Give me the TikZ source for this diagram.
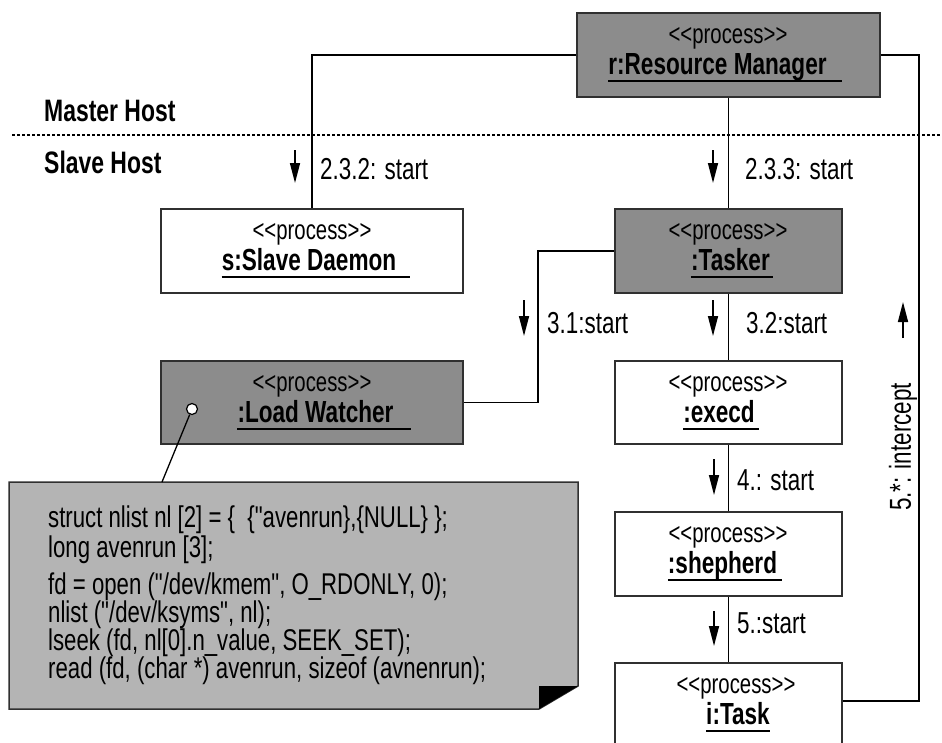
\documentclass[tikz,border=0pt]{standalone}
\usepackage{fontspec}
\setmainfont{Liberation Sans}[FakeStretch=0.74, Ligatures=TeXOff]
\usetikzlibrary{arrows.meta}
\definecolor{boxdark}{HTML}{8C8C8C}
\definecolor{notegray}{HTML}{B4B4B4}
\definecolor{edgegray}{HTML}{303030}
\begin{document}
\begin{tikzpicture}[x=1pt,y=-1pt,
  procbox/.style={draw=edgegray, line width=1.6pt, rectangle, minimum height=84pt, inner sep=0pt},
  darkbox/.style={procbox, fill=boxdark},
  lightbox/.style={procbox, fill=white},
  stereo/.style={anchor=base, inner sep=0pt, font=\fontsize{27.5}{27.5}\selectfont},
  ptitle/.style={anchor=base, inner sep=0pt, font=\bfseries\fontsize{30.5}{30.5}\selectfont},
  uline/.style={line width=1.4pt},
  lbl/.style={anchor=base west, inner sep=0pt, font=\fontsize{30.3}{30.3}\selectfont},
  hostlbl/.style={anchor=base west, inner sep=0pt, font=\bfseries\fontsize{31}{31}\selectfont},
  conn/.style={line width=1.5pt},
  msg/.style={line width=1.5pt, -{Triangle[length=20pt,width=10pt]}},
  codeline/.style={anchor=base west, inner sep=0pt, font=\fontsize{30}{30}\selectfont},
]
\useasboundingbox (0,0) rectangle (942,742);
\clip (0,0) rectangle (942,742);

% host separator
\draw[line width=1.2pt, dash pattern=on 3pt off 2pt] (12,135) -- (942,135);
\node[hostlbl] (master) at (44,121) {Master Host};
\node[hostlbl] (slave) at (44,173) {Slave Host};

% boxes
\node[darkbox, minimum width=303pt] (rm) at (728.5,55) {};
\node[lightbox, minimum width=302pt] (sd) at (312,251) {};
\node[darkbox, minimum width=227pt] (tasker) at (728.5,251) {};
\node[darkbox, minimum width=302pt, minimum height=83pt] (lw) at (312,402.5) {};
\node[lightbox, minimum width=227pt, minimum height=83pt] (execd) at (728.5,402.5) {};
\node[lightbox, minimum width=227pt] (shep) at (728.5,554) {};
\node[lightbox, minimum width=227pt] (task) at (728.5,705) {};

% connectors
\draw[conn] (rm.west) -| (sd.north);
\draw[conn] (rm.east) -- ++(38,0) |- ([yshift=4pt]task.east);
\draw[conn] (rm.south) -- (tasker.north);
\draw[conn] (tasker.west) -- ++(-76,0) |- (lw.east);
\draw[conn] (tasker.south) -- (execd.north);
\draw[conn] (execd.south) -- (shep.north);
\draw[conn] (shep.south) -- (task.north);

% box texts
\node[stereo] (rms) at (728,43) {<{}<process>{}>};
\node[ptitle] (rmt) at (725,74) {r:Resource Manager\hspace*{15pt}};
\draw[uline] ([yshift=-7pt]rmt.base west) -- ([yshift=-7pt]rmt.base east);

\node[stereo] (sds) at (312,239) {<{}<process>{}>};
\node[ptitle] (sdt) at (316,270) {s:Slave Daemon\hspace*{14pt}};
\draw[uline] ([yshift=-7pt]sdt.base west) -- ([yshift=-7pt]sdt.base east);

\node[stereo] (tks) at (728,239) {<{}<process>{}>};
\node[ptitle] (tkt) at (732,270) {:Tasker\hspace*{3pt}};
\draw[uline] ([yshift=-7pt]tkt.base west) -- ([yshift=-7pt]tkt.base east);

\node[stereo] (lws) at (312,391) {<{}<process>{}>};
\node[ptitle] (lwt) at (324,422) {:Load Watcher\hspace*{17pt}};
\draw[uline] ([yshift=-7pt]lwt.base west) -- ([yshift=-7pt]lwt.base east);

\node[stereo] (exs) at (728,391) {<{}<process>{}>};
\node[ptitle] (ext) at (721,422) {:execd\hspace*{4pt}};
\draw[uline] ([yshift=-7pt]ext.base west) -- ([yshift=-7pt]ext.base east);

\node[stereo] (shs) at (728,542) {<{}<process>{}>};
\node[ptitle] (sht) at (725,573) {:shepherd\hspace*{5pt}};
\draw[uline] ([yshift=-7pt]sht.base west) -- ([yshift=-7pt]sht.base east);

\node[stereo] (tas) at (736,693) {<{}<process>{}>};
\node[ptitle] (tat) at (738,724) {i:Task};
\draw[uline] ([yshift=-7pt]tat.base west) -- ([yshift=-7pt]tat.base east);

% message arrows and labels
\draw[msg] (295,150) -- (295,183);
\node[lbl] (l232) at (320,179) {2.3.2: start};
\draw[msg] (713,150) -- (713,183);
\node[lbl] (l233) at (745,179) {2.3.3: start};
\draw[msg] (524,300) -- (524,336);
\node[lbl] (l31) at (547,333) {3.1:start};
\draw[msg] (713,300) -- (713,336);
\node[lbl] (l32) at (746,333) {3.2:start};
\draw[msg] (714,459) -- (714,495);
\node[lbl] (l4) at (737,490) {4.: start};
\draw[msg] (714,611) -- (714,646);
\node[lbl] (l5) at (737,633) {5.:start};
\draw[msg] (903,338) -- (903,302);
\node[rotate=90, inner sep=0pt, font=\fontsize{30.3}{30.3}\selectfont] (l5s) at (903,447) {5.*: intercept};

% note
\draw[draw=edgegray, line width=1.5pt, fill=notegray] (9,482) -- (578,482) -- (578,686) -- (539,709) -- (9,709) -- cycle;
\fill[black] (539,686) -- (578,686) -- (539,709) -- cycle;
\coordinate (noteattach) at (162,482);
\node[circle, draw=black, line width=1.2pt, fill=white, inner sep=0pt, minimum size=11pt] (lwc) at (192,409) {};
\draw[line width=1.3pt] (lwc) -- (noteattach);

\node[codeline] (c1) at (48,527) {struct nlist nl [2] = \{\ \ \{"avenrun\},\{NULL\} \};};
\node[codeline] (c2) at (48,557) {long avenrun [3];};
\node[codeline] (c3) at (48,594) {fd = open ("/dev/kmem", O\_RDONLY, 0);};
\node[codeline] (c4) at (48,622) {nlist ("/dev/ksyms", nl);};
\node[codeline] (c5) at (48,650) {lseek (fd, nl[0].n\_value, SEEK\_SET);};
\node[codeline] (c6) at (48,678) {read (fd, (char *) avenrun, sizeof (avnenrun);};
\end{tikzpicture}
\end{document}
